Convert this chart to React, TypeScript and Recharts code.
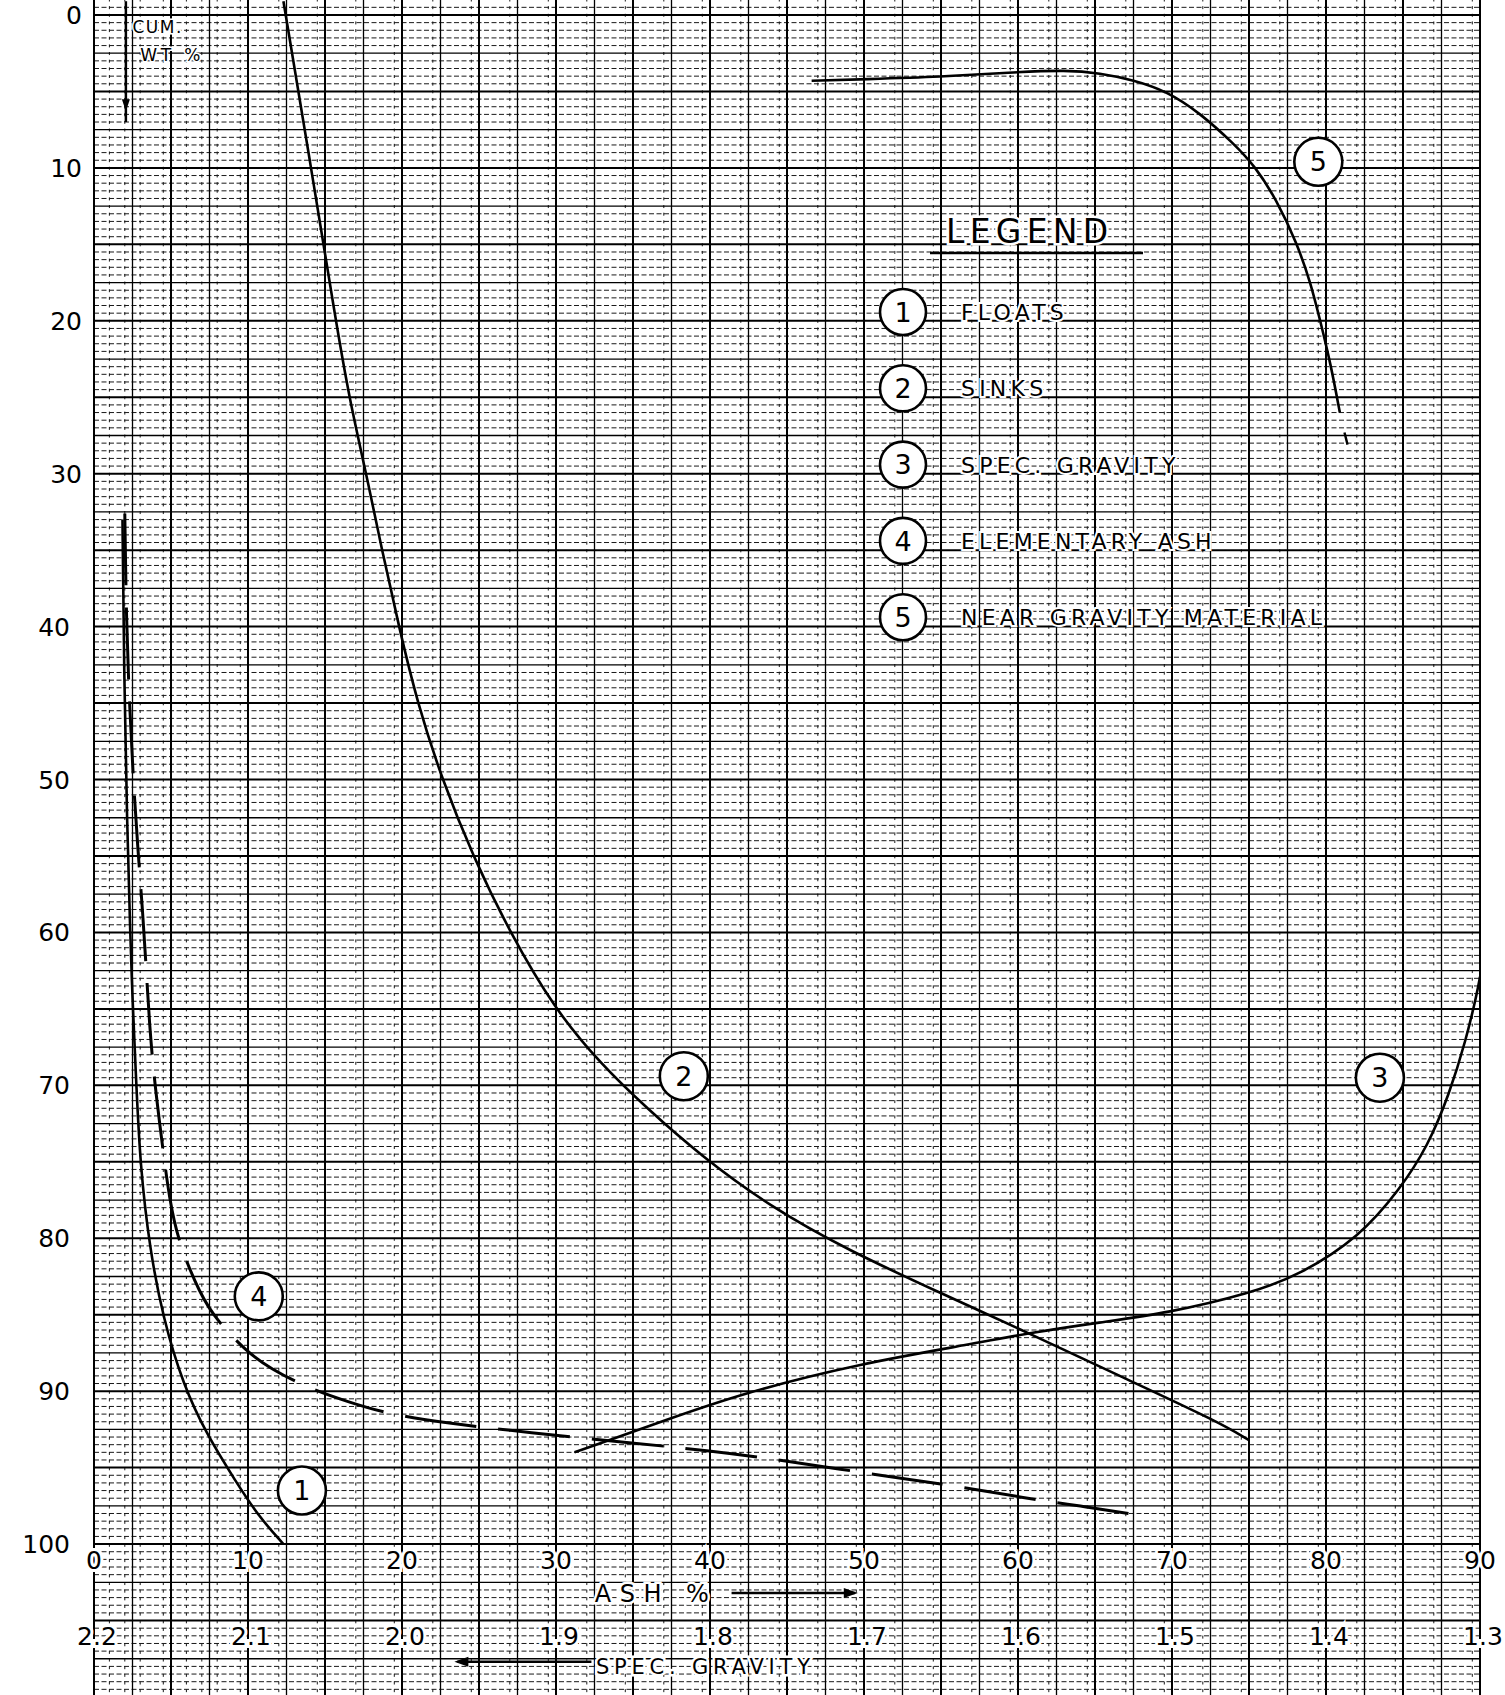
import React from 'react';
import {
  ComposedChart,
  Line,
  XAxis,
  YAxis,
  CartesianGrid,
  ReferenceDot,
  ReferenceLine,
  Legend,
} from 'recharts';

// ---------------- data ----------------
// x = ash %, y = cumulative weight %
const floats = [
  { ash: 1.85, wt: 33 },
  { ash: 1.95, wt: 43 },
  { ash: 2.15, wt: 53 },
  { ash: 2.35, wt: 60 },
  { ash: 2.5, wt: 64.4 },
  { ash: 2.75, wt: 70 },
  { ash: 3.0, wt: 75.2 },
  { ash: 3.6, wt: 80.6 },
  { ash: 4.5, wt: 85.3 },
  { ash: 5.8, wt: 89.6 },
  { ash: 7.3, wt: 92.8 },
  { ash: 9.2, wt: 95.9 },
  { ash: 10.7, wt: 98.2 },
  { ash: 12.3, wt: 100 },
];

const sinks = [
  { ash: 12.3, wt: -0.9 },
  { ash: 14.1, wt: 10 },
  { ash: 15.7, wt: 20 },
  { ash: 16.6, wt: 25.2 },
  { ash: 17.7, wt: 30.1 },
  { ash: 18.7, wt: 35 },
  { ash: 19.8, wt: 40 },
  { ash: 21.0, wt: 45 },
  { ash: 22.6, wt: 50 },
  { ash: 24.6, wt: 55 },
  { ash: 27.0, wt: 60 },
  { ash: 29.9, wt: 65 },
  { ash: 32.9, wt: 68.6 },
  { ash: 35.9, wt: 71.5 },
  { ash: 39.4, wt: 74.6 },
  { ash: 44.0, wt: 78.0 },
  { ash: 49.0, wt: 80.8 },
  { ash: 55.0, wt: 83.6 },
  { ash: 60.7, wt: 86.2 },
  { ash: 66.8, wt: 89.1 },
  { ash: 73.0, wt: 92.0 },
  { ash: 75.0, wt: 93.2 },
];

// x = specific gravity (lower scale), y = cumulative weight %
const specGravity = [
  { sg: 1.888, wt: 94.0 },
  { sg: 1.865, wt: 93.2 },
  { sg: 1.832, wt: 92.0 },
  { sg: 1.778, wt: 90.1 },
  { sg: 1.703, wt: 88.2 },
  { sg: 1.629, wt: 86.9 },
  { sg: 1.593, wt: 86.2 },
  { sg: 1.547, wt: 85.5 },
  { sg: 1.503, wt: 84.9 },
  { sg: 1.449, wt: 83.6 },
  { sg: 1.417, wt: 82.4 },
  { sg: 1.378, wt: 79.9 },
  { sg: 1.352, wt: 76.8 },
  { sg: 1.334, wt: 74.0 },
  { sg: 1.32, wt: 70.6 },
  { sg: 1.309, wt: 67.0 },
  { sg: 1.302, wt: 64.0 },
  { sg: 1.3, wt: 62.9 },
];

const elementaryAsh = [
  { ash: 2.0, wt: 32.6 },
  { ash: 2.1, wt: 39.6 },
  { ash: 2.3, wt: 45 },
  { ash: 2.55, wt: 50 },
  { ash: 2.85, wt: 54.6 },
  { ash: 3.15, wt: 58.5 },
  { ash: 3.4, wt: 62.5 },
  { ash: 3.6, wt: 66 },
  { ash: 3.9, wt: 69.5 },
  { ash: 4.4, wt: 73.6 },
  { ash: 4.9, wt: 77.5 },
  { ash: 5.5, wt: 80.3 },
  { ash: 6.9, wt: 83.7 },
  { ash: 8.0, wt: 85.4 },
  { ash: 9.9, wt: 87.4 },
  { ash: 11.4, wt: 88.5 },
  { ash: 13.9, wt: 89.8 },
  { ash: 16.5, wt: 90.7 },
  { ash: 19.1, wt: 91.5 },
  { ash: 23.0, wt: 92.1 },
  { ash: 28.1, wt: 92.7 },
  { ash: 35.1, wt: 93.4 },
  { ash: 40.0, wt: 93.9 },
  { ash: 44.5, wt: 94.5 },
  { ash: 48.5, wt: 95.1 },
  { ash: 52.3, wt: 95.7 },
  { ash: 56.0, wt: 96.2 },
  { ash: 60.5, wt: 97.0 },
  { ash: 64.0, wt: 97.5 },
  { ash: 67.8, wt: 98.1 },
];

const nearGravity = [
  { ash: 46.6, wt: 4.3 },
  { ash: 50.0, wt: 4.2 },
  { ash: 55.0, wt: 4.05 },
  { ash: 59.5, wt: 3.75 },
  { ash: 63.2, wt: 3.6 },
  { ash: 65.3, wt: 3.8 },
  { ash: 67.5, wt: 4.25 },
  { ash: 69.7, wt: 5.0 },
  { ash: 71.8, wt: 6.4 },
  { ash: 74.0, wt: 8.4 },
  { ash: 75.4, wt: 9.9 },
  { ash: 76.8, wt: 12.1 },
  { ash: 78.1, wt: 14.9 },
  { ash: 79.0, wt: 17.5 },
  { ash: 79.6, wt: 19.9 },
  { ash: 80.3, wt: 22.8 },
  { ash: 80.9, wt: 26.0 },
];

const nearGravityTail = [
  { ash: 81.2, wt: 27.3 },
  { ash: 81.4, wt: 28.1 },
];

const seriesNames = ['FLOATS', 'SINKS', 'SPEC. GRAVITY', 'ELEMENTARY ASH', 'NEAR GRAVITY MATERIAL'];

const wtTicks = [0, 10, 20, 30, 40, 50, 60, 70, 80, 90, 100];
const ashTicks = [0, 10, 20, 30, 40, 50, 60, 70, 80, 90];
const sgTicks = [2.2, 2.1, 2.0, 1.9, 1.8, 1.7, 1.6, 1.5, 1.4, 1.3];

// circled curve numbers placed on the chart (ash %, cum wt %)
const curveTags = [
  { n: '1', ash: 13.5, wt: 96.5 },
  { n: '2', ash: 38.3, wt: 69.4 },
  { n: '3', ash: 83.5, wt: 69.5 },
  { n: '4', ash: 10.7, wt: 83.8 },
  { n: '5', ash: 79.5, wt: 9.6 },
];

// rows (in cum wt % units) where the lower scales are lettered
const ASH_LABEL_ROW = 101.05;
const SG_LABEL_ROW = 106.0;

// ---------------- layout / style ----------------
const W = 1505;
const H = 1695;
const FONT = '"DejaVu Sans", "Liberation Sans", Arial, sans-serif';
const INK = '#000';

const range = (a: number, b: number, step: number) => {
  const out: number[] = [];
  const n = Math.round((b - a) / step);
  for (let i = 0; i <= n; i++) out.push(Math.round((a + i * step) * 1000) / 1000);
  return out;
};
const isMult = (v: number, m: number) => Math.abs(v / m - Math.round(v / m)) < 1e-6;

const vAll = range(0, 90, 0.5);
const hAll = range(-0.5, 109.5, 0.5);
const vMinor = vAll.filter((v) => !isMult(v, 2.5));
const hMinor = hAll.filter((v) => !isMult(v, 2.5));
const vMid = vAll.filter((v) => isMult(v, 2.5) && !isMult(v, 5));
const hMid = hAll.filter((v) => isMult(v, 2.5) && !isMult(v, 5));
const vMajor = vAll.filter((v) => isMult(v, 5));
const hMajor = hAll.filter((v) => isMult(v, 5));

const haloStyle: React.CSSProperties = { paintOrder: 'stroke' };

function WtTick(props: any) {
  const { x, y, payload } = props;
  const shift = payload.value >= 40 ? -12 : 0;
  return (
    <text x={x} y={y} dx={shift} dy="0.36em" textAnchor="end" fontFamily={FONT} fontSize={25} fill={INK}>
      {payload.value}
    </text>
  );
}

const tagShape = (n: string) => (p: any) => (
  <g>
    <circle cx={p.cx} cy={p.cy} r={24} fill="#fff" stroke={INK} strokeWidth={2.6} />
    <text x={p.cx} y={p.cy} dy="0.36em" textAnchor="middle" fontFamily={FONT} fontSize={27} fill={INK}>
      {n}
    </text>
  </g>
);

const textShape =
  (label: string, size: number, spacing: number, anchor: 'start' | 'middle' | 'end' = 'middle', halo = 5, dx = 0) =>
  (p: any) => (
    <text
      x={p.cx}
      y={p.cy}
      dx={dx}
      dy="0.36em"
      textAnchor={anchor}
      fontFamily={FONT}
      fontSize={size}
      letterSpacing={spacing}
      fill={INK}
      stroke="#fff"
      strokeWidth={halo}
      style={haloStyle}
    >
      {label}
    </text>
  );

const arrowHead = (dir: 'left' | 'right' | 'down') => (p: any) => {
  const { cx, cy } = p;
  let d = '';
  if (dir === 'left') d = `M${cx},${cy} L${cx + 14},${cy - 5} L${cx + 14},${cy + 5} Z`;
  if (dir === 'right') d = `M${cx},${cy} L${cx - 14},${cy - 5} L${cx - 14},${cy + 5} Z`;
  if (dir === 'down') d = `M${cx},${cy} L${cx - 4},${cy - 12} L${cx + 4},${cy - 12} Z`;
  return <path d={d} fill={INK} />;
};

function LegendBox(props: any) {
  const payload: any[] = props.payload || [];
  const names = payload.length
    ? payload
        .map((p) => String(p.value))
        .filter((v) => seriesNames.includes(v))
        .sort((a, b) => seriesNames.indexOf(a) - seriesNames.indexOf(b))
    : seriesNames;
  return (
    <svg width={480} height={450} style={{ overflow: 'visible', display: 'block' }}>
      <text x={76} y={43} fontFamily={FONT} fontSize={33} letterSpacing={5.3} fill={INK} stroke="#fff" strokeWidth={5} style={haloStyle}>
        LEGEND
      </text>
      <line x1={60} x2={273} y1={53} y2={53} stroke={INK} strokeWidth={2.6} />
      {names.map((name, i) => {
        const cy = 112 + i * 76.3;
        return (
          <g key={name}>
            <circle cx={33} cy={cy} r={23} fill="#fff" stroke={INK} strokeWidth={2.6} />
            <text x={33} y={cy} dy="0.36em" textAnchor="middle" fontFamily={FONT} fontSize={27} fill={INK}>
              {i + 1}
            </text>
            <text
              x={91}
              y={cy}
              dy="0.36em"
              fontFamily={FONT}
              fontSize={22}
              letterSpacing={4.2}
              fill={INK}
              stroke="#fff"
              strokeWidth={4}
              style={haloStyle}
            >
              {name}
            </text>
          </g>
        );
      })}
    </svg>
  );
}

export default function App() {
  return (
    <div style={{ position: 'absolute', left: 0, top: 0, width: W, height: H, background: '#fff' }}>
      <ComposedChart width={W} height={H} margin={{ top: 0, right: 25, bottom: 0, left: 0 }}>
        <XAxis xAxisId="ash" type="number" dataKey="ash" domain={[0, 90]} allowDataOverflow ticks={ashTicks} hide />
        <XAxis xAxisId="sg" type="number" dataKey="sg" domain={[1.3, 2.2]} reversed allowDataOverflow ticks={sgTicks} hide />
        <YAxis
          yAxisId="wt"
          type="number"
          domain={[-0.98, 109.87]}
          reversed
          allowDataOverflow
          ticks={wtTicks}
          interval={0}
          width={94}
          axisLine={false}
          tickLine={false}
          tickSize={0}
          tickMargin={12}
          tick={WtTick}
        />

        {/* graph paper */}
        <CartesianGrid xAxisId="ash" yAxisId="wt" horizontal={false} verticalValues={vMinor} stroke="#1a1a1a" strokeWidth={1} strokeDasharray="3 4.65" strokeDashoffset={1.5} />
        <CartesianGrid xAxisId="ash" yAxisId="wt" vertical={false} horizontalValues={hMinor} stroke="#1a1a1a" strokeWidth={1} strokeDasharray="5 2.5" />
        <CartesianGrid xAxisId="ash" yAxisId="wt" horizontalValues={hMid} verticalValues={vMid} stroke="#000" strokeWidth={1.3} />
        <CartesianGrid xAxisId="ash" yAxisId="wt" horizontalValues={hMajor} verticalValues={vMajor} stroke="#000" strokeWidth={2} />

        {/* curves */}
        <Line xAxisId="ash" yAxisId="wt" data={floats} dataKey="wt" name={seriesNames[0]} type="basis" stroke={INK} strokeWidth={2.6} dot={false} activeDot={false} isAnimationActive={false} />
        <Line xAxisId="ash" yAxisId="wt" data={sinks} dataKey="wt" name={seriesNames[1]} type="basis" stroke={INK} strokeWidth={2.6} dot={false} activeDot={false} isAnimationActive={false} />
        <Line xAxisId="sg" yAxisId="wt" data={specGravity} dataKey="wt" name={seriesNames[2]} type="basis" stroke={INK} strokeWidth={2.6} dot={false} activeDot={false} isAnimationActive={false} />
        <Line xAxisId="ash" yAxisId="wt" data={elementaryAsh} dataKey="wt" name={seriesNames[3]} type="basis" stroke={INK} strokeWidth={3} strokeDasharray="72 22" dot={false} activeDot={false} isAnimationActive={false} />
        <Line xAxisId="ash" yAxisId="wt" data={nearGravity} dataKey="wt" name={seriesNames[4]} type="basis" stroke={INK} strokeWidth={2.6} dot={false} activeDot={false} isAnimationActive={false} />
        <Line xAxisId="ash" yAxisId="wt" data={nearGravityTail} dataKey="wt" name="near gravity tail" legendType="none" type="linear" stroke={INK} strokeWidth={2.4} dot={false} activeDot={false} isAnimationActive={false} />

        {/* lower scales: ash % and specific gravity */}
        {ashTicks.map((v) => (
          <ReferenceDot key={`ash-${v}`} xAxisId="ash" yAxisId="wt" x={v} y={ASH_LABEL_ROW} r={1} shape={textShape(String(v), 25, 0, 'middle', 6)} />
        ))}
        {sgTicks.map((v) => (
          <ReferenceDot key={`sg-${v}`} xAxisId="sg" yAxisId="wt" x={v} y={SG_LABEL_ROW} r={1} shape={textShape(v.toFixed(1), 25, 0, 'middle', 6, 3)} />
        ))}

        {/* circled curve numbers */}
        {curveTags.map((t) => (
          <ReferenceDot key={t.n} xAxisId="ash" yAxisId="wt" x={t.ash} y={t.wt} r={24} shape={tagShape(t.n)} />
        ))}

        {/* CUM. WT % note with arrow */}
        <ReferenceLine xAxisId="ash" yAxisId="wt" segment={[{ x: 2.07, y: -0.9 }, { x: 2.07, y: 7 }]} stroke={INK} strokeWidth={2.5} />
        <ReferenceDot xAxisId="ash" yAxisId="wt" x={2.07} y={6.3} r={3} shape={arrowHead('down')} />
        <ReferenceDot xAxisId="ash" yAxisId="wt" x={2.5} y={0.78} r={1} shape={textShape('CUM.', 17, 1.5, 'start', 3)} />
        <ReferenceDot xAxisId="ash" yAxisId="wt" x={3.0} y={2.6} r={1} shape={textShape('WT %', 17, 3.8, 'start', 3)} />

        {/* axis titles */}
        <ReferenceDot xAxisId="ash" yAxisId="wt" x={36.5} y={103.2} r={1} shape={textShape('ASH %', 24, 8.5)} />
        <ReferenceLine xAxisId="ash" yAxisId="wt" segment={[{ x: 41.4, y: 103.2 }, { x: 49.4, y: 103.2 }]} stroke={INK} strokeWidth={2.4} />
        <ReferenceDot xAxisId="ash" yAxisId="wt" x={49.6} y={103.2} r={1} shape={arrowHead('right')} />
        <ReferenceDot xAxisId="ash" yAxisId="wt" x={39.7} y={108.0} r={1} shape={textShape('SPEC. GRAVITY', 21, 4.8)} />
        <ReferenceLine xAxisId="ash" yAxisId="wt" segment={[{ x: 23.6, y: 107.7 }, { x: 32.3, y: 107.7 }]} stroke={INK} strokeWidth={2.4} />
        <ReferenceDot xAxisId="ash" yAxisId="wt" x={23.4} y={107.7} r={1} shape={arrowHead('left')} />

        <Legend
          layout="horizontal"
          verticalAlign="middle"
          align="center"
          wrapperStyle={{ left: 870, top: 200, width: 480, height: 450 }}
          content={LegendBox}
        />
      </ComposedChart>
    </div>
  );
}
